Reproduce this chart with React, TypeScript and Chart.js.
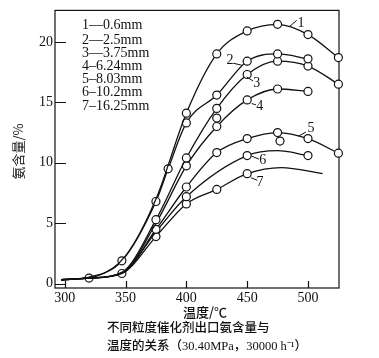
import React, { useEffect, useRef } from 'react';
import { Chart, registerables } from 'chart.js';

Chart.register(...registerables);

// ---- data ----
const xTickValues = [300, 350, 400, 450, 500];
const yTickValues = [0, 5, 10, 15, 20];

const curveNames = ['1', '2', '3', '4', '5', '6', '7'];
const legendLines = ['1—0.6mm', '2—2.5mm', '3—3.75mm', '4–6.24mm', '5–8.03mm', '6–10.2mm', '7–16.25mm'];

const curve1X = [297, 325, 350, 375, 400, 425, 450, 475, 500, 525];
const curve1Y = [0.35, 0.6, 2.3, 7.0, 14.1, 19.0, 20.9, 21.45, 20.6, 18.7];
const curve1Marked = [0, 0, 0, 0, 1, 1, 1, 1, 1, 1];

const curve2X = [297, 320, 347, 375, 385, 400, 425, 450, 475, 500];
const curve2Y = [0.35, 0.55, 1.9, 6.8, 9.5, 13.3, 15.6, 18.4, 19.0, 18.6];
const curve2Marked = [0, 0, 1, 1, 1, 1, 1, 1, 1, 1];

const curve3X = [297, 320, 347, 375, 400, 425, 450, 475, 500, 525];
const curve3Y = [0.35, 0.47, 0.95, 5.3, 10.4, 14.5, 17.3, 18.4, 18.0, 16.5];
const curve3Marked = [0, 0, 0, 1, 1, 1, 1, 1, 1, 1];

const curve4X = [297, 320, 347, 375, 400, 425, 450, 475, 500];
const curve4Y = [0.35, 0.47, 0.9, 5.0, 9.75, 13.0, 15.2, 16.1, 15.9];
const curve4Marked = [0, 0, 0, 0, 1, 1, 1, 1, 1];

const curve5X = [297, 320, 347, 375, 400, 425, 450, 475, 500, 525];
const curve5Y = [0.3, 0.47, 0.87, 4.5, 8.0, 10.85, 12.0, 12.5, 12.0, 10.8];
const curve5Marked = [0, 0, 0, 1, 1, 1, 1, 1, 1, 1];

const curve6X = [297, 320, 347, 375, 400, 450, 475, 500];
const curve6Y = [0.3, 0.47, 0.85, 4.3, 7.2, 10.6, 11.0, 10.6];
const curve6Marked = [0, 0, 0, 0, 1, 1, 0, 1];

const curve7X = [297, 320, 347, 375, 400, 425, 450, 478, 512];
const curve7Y = [0.3, 0.47, 0.85, 3.9, 6.6, 7.8, 9.1, 9.6, 9.1];
const curve7Marked = [0, 1, 1, 1, 1, 1, 1, 0, 0];

// scattered measurements that sit off the drawn curves
const extraX = [425, 477];
const extraY = [13.7, 11.8];

// where each curve's number label is attached (data units)
const labelAnchorX = [485.2, 445.5, 449.6, 453.7, 492, 453.7, 453.1];
const labelAnchorY = [21.3, 18.07, 17.1, 14.9, 12.19, 10.55, 8.77];

// ---- styling / layout ----
const INK = '#111111';
const SERIF = "'Liberation Serif', 'DejaVu Serif', serif";
const CJK = "'Noto Sans CJK SC', sans-serif";
// offsets in px from anchor: [leaderDx, leaderDy, textDx, textDy]
const labelOffsets = [
  [6.7, -5.7, 11, -3],
  [-8.5, -2, -11.7, -5.3],
  [6.3, 4, 10, 6],
  [4.3, 1.3, 8, 3],
  [7.7, -4.3, 12.7, -8.3],
  [7.3, 3, 11, 4.5],
  [6.3, 2.6, 9, 4.3],
];
const legendY = [25, 40.5, 53.7, 66.3, 79.5, 92, 106];

const curvesX = [curve1X, curve2X, curve3X, curve4X, curve5X, curve6X, curve7X];
const curvesY = [curve1Y, curve2Y, curve3Y, curve4Y, curve5Y, curve6Y, curve7Y];
const curvesMarked = [curve1Marked, curve2Marked, curve3Marked, curve4Marked, curve5Marked, curve6Marked, curve7Marked];

const decorPlugin = {
  id: 'decor',
  beforeDatasetsDraw(chart: any) {
    const { ctx, chartArea, scales } = chart;
    const { left, top, right, bottom } = chartArea;
    const xs = scales.x;
    const ys = scales.y;
    ctx.save();
    ctx.strokeStyle = INK;
    ctx.lineWidth = 1.2;
    ctx.strokeRect(left, top, right - left, bottom - top);
    ctx.beginPath();
    yTickValues.forEach((v) => {
      const py = Math.round(ys.getPixelForValue(v)) + 0.5;
      ctx.moveTo(left, py);
      ctx.lineTo(left + 11, py);
    });
    xTickValues.forEach((v) => {
      const px = Math.round(xs.getPixelForValue(v)) + 0.5;
      ctx.moveTo(px, bottom);
      ctx.lineTo(px, bottom - 7);
    });
    ctx.stroke();
    ctx.restore();
  },
  afterDraw(chart: any) {
    const { ctx, scales } = chart;
    const xs = scales.x;
    const ys = scales.y;
    ctx.save();
    ctx.strokeStyle = INK;
    ctx.fillStyle = INK;

    // legend text block
    ctx.font = `14px ${SERIF}`;
    ctx.textAlign = 'left';
    ctx.textBaseline = 'middle';
    legendLines.forEach((t, i) => ctx.fillText(t, 82, legendY[i]));

    // curve labels with leaders
    ctx.lineWidth = 1;
    curveNames.forEach((name, i) => {
      const ax = xs.getPixelForValue(labelAnchorX[i]);
      const ay = ys.getPixelForValue(labelAnchorY[i]);
      const [lx, ly, tx, ty] = labelOffsets[i];
      ctx.beginPath();
      ctx.moveTo(ax, ay);
      ctx.lineTo(ax + lx, ay + ly);
      ctx.stroke();
      ctx.textAlign = 'center';
      ctx.fillText(name, ax + tx, ay + ty);
    });

    // y axis title (reads bottom to top)
    ctx.save();
    ctx.translate(18, 151.5);
    ctx.rotate(-Math.PI / 2);
    ctx.font = `13px ${CJK}`;
    ctx.textAlign = 'center';
    ctx.fillText('氨含量/%', 0, 0);
    ctx.restore();

    // x axis title
    ctx.font = `500 13px ${CJK}`;
    ctx.textAlign = 'center';
    ctx.fillText('温度/℃', 205, 312);

    // caption
    ctx.textAlign = 'left';
    ctx.font = `500 12.5px 'Liberation Serif', ${CJK}`;
    ctx.fillText('不同粒度催化剂出口氨含量与', 107, 329);
    ctx.fillText('温度的关系（30.40MPa，30000 h⁻¹）', 107, 347);
    ctx.restore();
  },
};

export default function App() {
  const ref = useRef<HTMLCanvasElement | null>(null);
  useEffect(() => {
    document.body.style.margin = '0';
    const canvas = ref.current;
    if (!canvas) return;
    const datasets: any[] = curvesX.map((xsArr, i) => ({
      label: curveNames[i],
      data: xsArr.map((x, j) => ({ x, y: curvesY[i][j] })),
      borderColor: INK,
      borderWidth: 1.3,
      pointRadius: curvesMarked[i].map((m) => (m ? 4 : 0)),
      pointBackgroundColor: '#ffffff',
      pointBorderColor: INK,
      pointBorderWidth: 1.2,
      cubicInterpolationMode: 'monotone',
      fill: false,
      clip: false,
    }));
    datasets.push({
      label: 'extra',
      data: extraX.map((x, j) => ({ x, y: extraY[j] })),
      showLine: false,
      pointRadius: 4,
      pointBackgroundColor: '#ffffff',
      pointBorderColor: INK,
      pointBorderWidth: 1.2,
      clip: false,
    });
    const chart = new Chart(canvas, {
      type: 'line',
      data: { datasets },
      options: {
        animation: false,
        responsive: false,
        devicePixelRatio: 1,
        layout: { padding: { left: 0, right: 40, top: 8, bottom: 0 } },
        plugins: { legend: { display: false }, tooltip: { enabled: false } },
        scales: {
          x: {
            type: 'linear',
            min: 292,
            max: 525.5,
            afterBuildTicks: (s: any) => {
              s.ticks = xTickValues.map((value) => ({ value }));
            },
            afterFit: (s: any) => {
              s.height = 70;
            },
            grid: { display: false, drawTicks: false },
            border: { display: false },
            ticks: { color: INK, padding: 2, maxRotation: 0, font: { family: SERIF, size: 14 } },
          },
          y: {
            type: 'linear',
            min: -0.35,
            max: 22.6,
            afterBuildTicks: (s: any) => {
              s.ticks = yTickValues.map((value) => ({ value }));
            },
            afterFit: (s: any) => {
              s.width = 55;
            },
            grid: { display: false, drawTicks: false },
            border: { display: false },
            ticks: { color: INK, padding: 2, font: { family: SERIF, size: 14 } },
          },
        },
      } as any,
      plugins: [decorPlugin],
    });
    return () => chart.destroy();
  }, []);
  return (
    <div style={{ width: 379, height: 358, background: '#fff' }}>
      <canvas ref={ref} width={379} height={358} />
    </div>
  );
}
